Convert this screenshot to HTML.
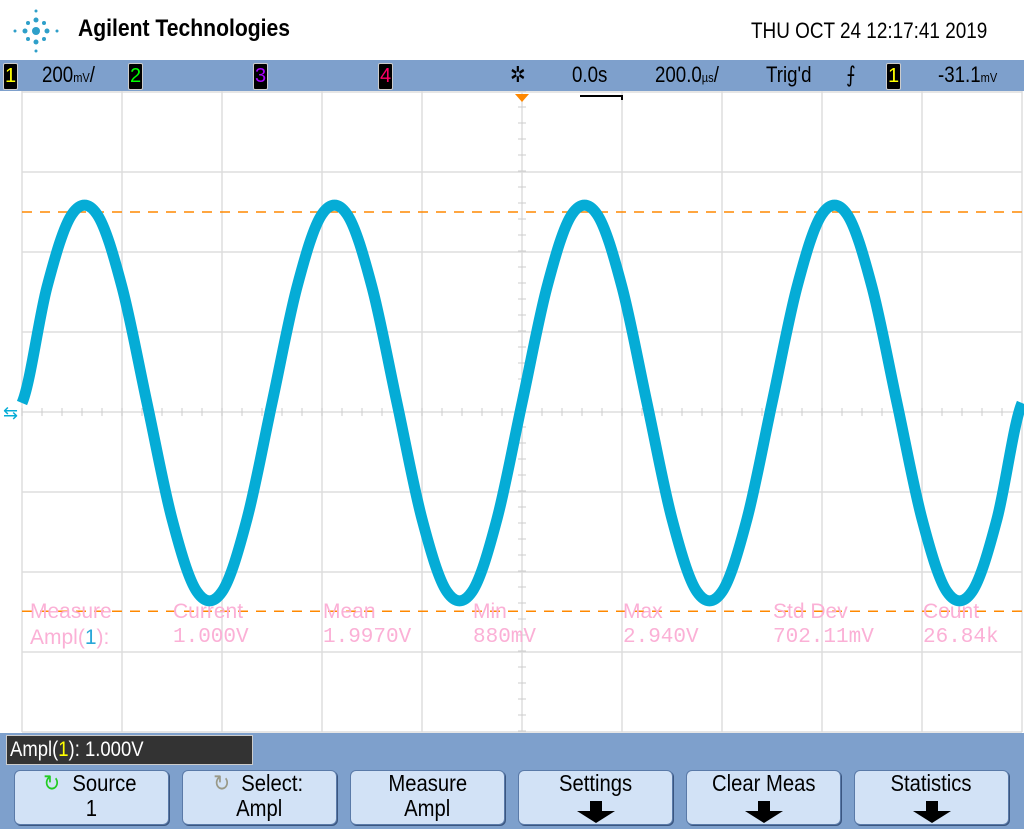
<!DOCTYPE html>
<html><head><meta charset="utf-8"><style>
body{margin:0;width:1024px;height:829px;overflow:hidden;background:#fff;font-family:"Liberation Sans",sans-serif;position:relative}
.a{position:absolute;white-space:nowrap}
.bar{background:#7ea0cc}
.chbox{position:absolute;top:63px;width:13px;height:25px;background:#000;border-radius:2px;border:1px solid #ccc;font-size:20px;line-height:25px;text-align:center}
.st{position:absolute;top:62px;font-size:22px;color:#000;transform:scaleX(.85);transform-origin:left;white-space:nowrap}
.btn{position:absolute;top:770px;width:153px;height:53px;background:#d2e2f6;border-radius:6px;border:1px solid #5a7aa8;box-shadow:1px 1px 0 #3b5680;text-align:center;font-size:23px;line-height:25px;color:#000;white-space:nowrap}
.btn span{display:inline-block;transform:scaleX(.88)}
.arr{position:absolute;left:58px;top:40px;width:0;height:0;border-left:19px solid transparent;border-right:19px solid transparent;border-top:12px solid #000}
.arr:before{content:"";position:absolute;left:-6px;top:-22px;width:12px;height:11px;background:#000}
.ms{position:absolute;color:#fbb0d6;font-size:21px}
</style></head><body>
<div class="a" style="left:8px;top:5px;width:56px;height:52px">
<svg width="56" height="52"><g fill="#2e9fc9"><circle cx="28" cy="26" r="4"/><circle cx="28" cy="15" r="2.5"/><circle cx="28" cy="37" r="2.5"/><circle cx="17" cy="26" r="2.5"/><circle cx="39" cy="26" r="2.5"/><circle cx="20" cy="18" r="2"/><circle cx="36" cy="18" r="2"/><circle cx="20" cy="34" r="2"/><circle cx="36" cy="34" r="2"/><circle cx="28" cy="6" r="1.5"/><circle cx="28" cy="46" r="1.5"/><circle cx="7" cy="26" r="1.5"/><circle cx="49" cy="26" r="1.5"/></g></svg></div>
<div class="a" style="left:78px;top:15px;font-size:24px;font-weight:bold;transform:scaleX(.88);transform-origin:left">Agilent Technologies</div>
<div class="a" style="left:751px;top:18px;font-size:22px;transform:scaleX(.86);transform-origin:left">THU OCT 24 12:17:41 2019</div>
<div class="a bar" style="left:0;top:60px;width:1024px;height:31px"></div>
<div class="chbox" style="left:3px;color:#ff0">1</div>
<div class="st" style="left:42px">200<small style="font-size:13px">mV</small>/</div>
<div class="chbox" style="left:128px;color:#0f0">2</div>
<div class="chbox" style="left:253px;color:#a0f">3</div>
<div class="chbox" style="left:378px;color:#f06">4</div>
<div class="st" style="left:510px">✲</div>
<div class="st" style="left:572px">0.0s</div>
<div class="st" style="left:655px">200.0<small style="font-size:13px">µs</small>/</div>
<div class="st" style="left:766px">Trig'd</div>
<div class="st" style="left:846px">⨍</div>
<div class="chbox" style="left:886px;color:#ff0">1</div>
<div class="st" style="left:938px">-31.1<small style="font-size:13px">mV</small></div>
<svg class="a" style="left:0;top:91px" width="1024" height="642" id="plot"></svg>
<div class="ms" style="left:30px;top:600px;width:1000px">
<span class="a" style="left:0">Measure</span><span class="a" style="left:143px">Current</span><span class="a" style="left:293px">Mean</span><span class="a" style="left:443px">Min</span><span class="a" style="left:593px">Max</span><span class="a" style="left:743px">Std Dev</span><span class="a" style="left:893px">Count</span></div>
<div class="ms" style="left:30px;top:626px;width:1000px;font-family:'Liberation Mono',monospace;font-size:21px">
<span class="a" style="left:0;font-family:'Liberation Sans'">Ampl(<b style="color:#2aa7d8;font-weight:normal">1</b>):</span><span class="a" style="left:143px">1.000V</span><span class="a" style="left:293px">1.9970V</span><span class="a" style="left:443px">880mV</span><span class="a" style="left:593px">2.940V</span><span class="a" style="left:743px">702.11mV</span><span class="a" style="left:893px">26.84k</span></div>
<div class="a bar" style="left:0;top:733px;width:1024px;height:96px"></div>
<div class="a" style="left:6px;top:735px;width:242px;height:28px;background:#333;border:1px solid #ccc;color:#fff;font-size:21px;line-height:28px;padding-left:3px"><span style="display:inline-block;transform:scaleX(.88);transform-origin:left">Ampl(<span style="color:#ff0">1</span>): 1.000V</span></div>
<div class="btn" style="left:14px"><span style="color:#2c2">↻</span> <span>Source</span><br><span>1</span></div>
<div class="btn" style="left:182px"><span style="color:#998">↻</span> <span>Select:</span><br><span>Ampl</span></div>
<div class="btn" style="left:350px"><span>Measure</span><br><span>Ampl</span></div>
<div class="btn" style="left:518px"><span>Settings</span><div class="arr"></div></div>
<div class="btn" style="left:686px"><span>Clear Meas</span><div class="arr"></div></div>
<div class="btn" style="left:854px"><span>Statistics</span><div class="arr"></div></div>
<script>
// waveform samples: one every 0.25 div (25 us), in vertical divisions from screen center
const sampleDiv = [0,1.45,2.36,2.36,1.45,0,-1.45,-2.36,-2.36,-1.45,
  0,1.45,2.36,2.36,1.45,0,-1.45,-2.36,-2.36,-1.45,
  0,1.45,2.36,2.36,1.45,0,-1.45,-2.36,-2.36,-1.45,
  0,1.45,2.36,2.36,1.45,0,-1.45,-2.36,-2.36,-1.45,0];
const cursorLevels = [2.45,-2.54];
const timeDivs = 10, voltDivs = 8;
const svg = document.getElementById('plot'), NS = 'http://www.w3.org/2000/svg';
const X0 = 22, W = 1000, H = 641;
const xs = i => X0 + i * W / (sampleDiv.length - 1);
const ys = v => 312 - v * 80;
function mk(t, a, name){const e=document.createElementNS(NS,t);for(const k in a)e.setAttribute(k,a[k]);


svg.appendChild(e);return e;}
for(let i=0;i<=timeDivs;i++) mk('line',{x1:X0+i*100,x2:X0+i*100,y1:0,y2:H,stroke:'#ddd','stroke-width':1.5},'grid-v');
for(let j=0;j<=voltDivs;j++) mk('line',{x1:X0,x2:X0+W,y1:1+j*80,y2:1+j*80,stroke:'#ddd','stroke-width':1.5},'grid-h');
for(let k=0;k<=50;k++) mk('line',{x1:X0+k*20,x2:X0+k*20,y1:317,y2:325,stroke:'#ccc'},'minor-tick-h');
for(let k=0;k<=40;k++) mk('line',{x1:518,x2:526,y1:k*16,y2:k*16,stroke:'#ccc'},'minor-tick-v');
mk('path',{d:'M515 3 L529 3 L522 11 Z',fill:'#f80'},'trigger-marker');
mk('path',{d:'M580 5 L622 5 L622 9',stroke:'#000','stroke-width':2,fill:'none'},'memory-bar');
cursorLevels.forEach(v=>mk('line',{x1:X0,x2:X0+W,y1:ys(v)+5,y2:ys(v)+5,stroke:'#f80','stroke-width':1.5,'stroke-dasharray':'10 8'},'cursor-line'));
let d='M'+xs(0)+' '+ys(sampleDiv[0]);
for(let i=0;i<sampleDiv.length-1;i++){
  const p0=sampleDiv[Math.max(0,i-1)],p1=sampleDiv[i],p2=sampleDiv[i+1],p3=sampleDiv[Math.min(sampleDiv.length-1,i+2)];
  const dx=W/(sampleDiv.length-1);
  d+=' C'+(xs(i)+dx/3)+' '+ys(p1+(p2-p0)/6)+' '+(xs(i+1)-dx/3)+' '+ys(p2-(p3-p1)/6)+' '+xs(i+1)+' '+ys(p2);
}
mk('path',{d:d,stroke:'#05acd6','stroke-width':11,fill:'none'},'channel-1-trace');
mk('text',{x:3,y:328,fill:'#05acd6','font-size':18,'font-family':'Liberation Sans'},'ch1-ground-marker').textContent='⇆';
</script>
</body></html>
